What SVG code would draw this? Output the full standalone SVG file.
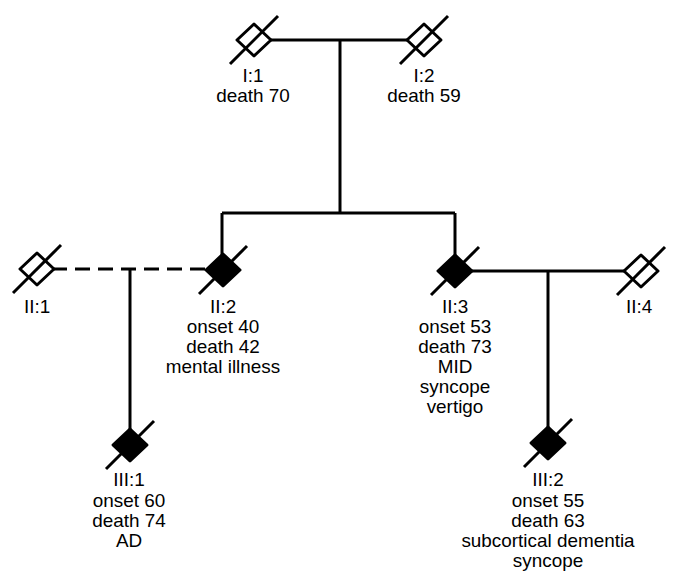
<svg xmlns="http://www.w3.org/2000/svg" width="685" height="575" viewBox="0 0 685 575">
<defs>
<style>
.ln{stroke:#000;stroke-width:3;fill:none}
.dash{stroke-dasharray:15,8}
.open{fill:#fff;stroke:#000;stroke-width:3;stroke-linejoin:round}
.fill{fill:#000;stroke:#000;stroke-width:3;stroke-linejoin:round}
.sl{stroke:#000;stroke-width:3}
text{font-family:"Liberation Sans",Arial,sans-serif;font-size:17.5px;text-anchor:middle;fill:#000}
</style>
<g id="dOpen"><path class="open" d="M0,-16 L17,0 L0,16 L-17,0 Z"/><line class="sl" x1="-24" y1="24" x2="24" y2="-24"/></g>
<g id="dFill"><path class="fill" d="M0,-16 L17,0 L0,16 L-17,0 Z"/><line class="sl" x1="-24" y1="24" x2="24" y2="-24"/></g>
</defs>
<rect width="685" height="575" fill="#fff"/>
<g id="connectors">
<line class="ln" x1="254" y1="40" x2="424" y2="40"/>
<line class="ln" x1="340" y1="40" x2="340" y2="213"/>
<line class="ln" x1="222" y1="213" x2="455" y2="213"/>
<line class="ln" x1="222" y1="213" x2="222" y2="270"/>
<line class="ln" x1="455" y1="213" x2="455" y2="271"/>
<line class="ln dash" x1="52" y1="269" x2="210" y2="269"/>
<line class="ln" x1="130" y1="269" x2="130" y2="445"/>
<line class="ln" x1="455" y1="271" x2="642" y2="271"/>
<line class="ln" x1="548" y1="271" x2="548" y2="443"/>
</g>
<g id="I1"><use href="#dOpen" x="254" y="40"/><g transform="translate(253,0) scale(1.08,1)"><text x="0" y="82">I:1</text><text x="0" y="102">death 70</text></g></g>
<g id="I2"><use href="#dOpen" x="424" y="40"/><g transform="translate(424,0) scale(1.08,1)"><text x="0" y="82">I:2</text><text x="0" y="102">death 59</text></g></g>
<g id="II1"><use href="#dOpen" x="37" y="269"/><g transform="translate(37,0) scale(1.08,1)"><text x="0" y="313">II:1</text></g></g>
<g id="II2"><use href="#dFill" x="223" y="270"/><g transform="translate(223,0) scale(1.08,1)"><text x="0" y="313">II:2</text><text x="0" y="333">onset 40</text><text x="0" y="353">death 42</text><text x="0" y="373">mental illness</text></g></g>
<g id="II3"><use href="#dFill" x="455" y="271"/><g transform="translate(455,0) scale(1.08,1)"><text x="0" y="313">II:3</text><text x="0" y="333">onset 53</text><text x="0" y="353">death 73</text><text x="0" y="373">MID</text><text x="0" y="393">syncope</text><text x="0" y="413">vertigo</text></g></g>
<g id="II4"><use href="#dOpen" x="641" y="271"/><g transform="translate(639,0) scale(1.08,1)"><text x="0" y="313">II:4</text></g></g>
<g id="III1"><use href="#dFill" x="130" y="445"/><g transform="translate(129,0) scale(1.08,1)"><text x="0" y="486">III:1</text><text x="0" y="507">onset 60</text><text x="0" y="527">death 74</text><text x="0" y="547">AD</text></g></g>
<g id="III2"><use href="#dFill" x="548" y="443"/><g transform="translate(548,0) scale(1.08,1)"><text x="0" y="486">III:2</text><text x="0" y="507">onset 55</text><text x="0" y="527">death 63</text><text x="0" y="547">subcortical dementia</text><text x="0" y="567">syncope</text></g></g>
</svg>
